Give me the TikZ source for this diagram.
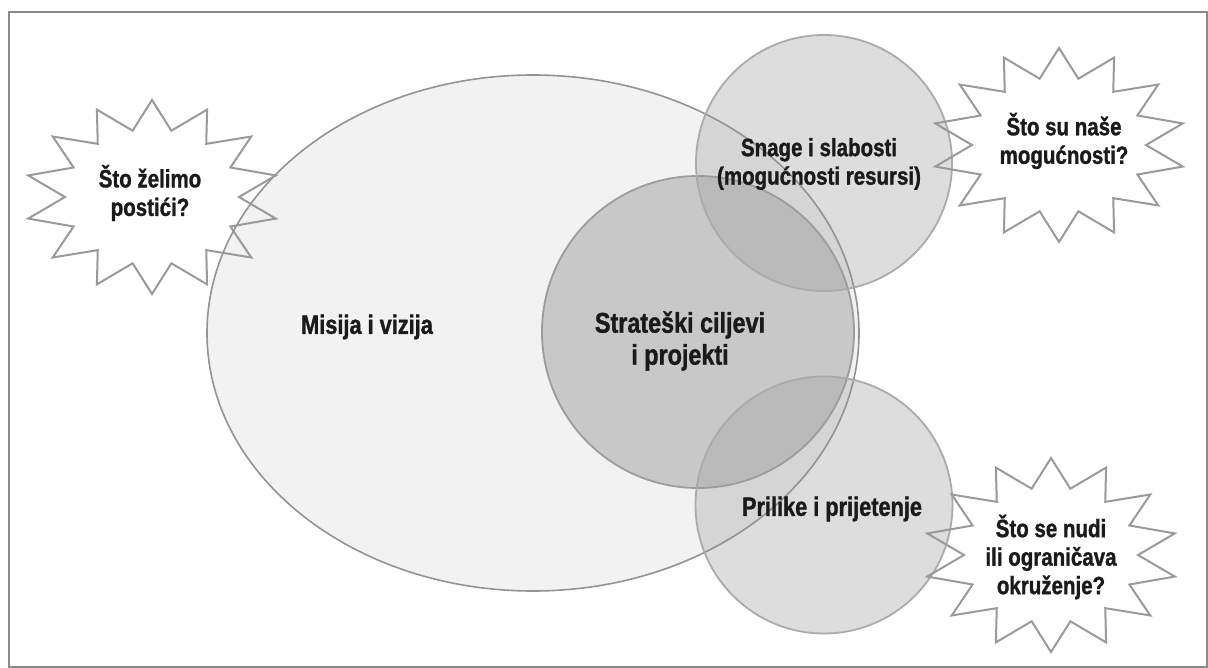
\documentclass[tikz,border=0pt]{standalone}
\usepackage{fontspec}
\newfontfamily\lbl[FakeStretch=0.82, FakeBold=1.2]{Liberation Sans}
\definecolor{ellfill}{HTML}{F2F2F2}
\definecolor{elldraw}{HTML}{939393}
\definecolor{cfillc}{HTML}{A0A0A0}
\definecolor{cdraw}{HTML}{9C9C9C}
\definecolor{sfillc}{HTML}{A4A4A4}
\definecolor{sdraw}{HTML}{ABABAB}
\definecolor{burstc}{HTML}{9A9A9A}
\definecolor{framec}{HTML}{8A8A8A}
\definecolor{txt}{HTML}{1A1A1A}
\tikzset{
  framebox/.style={draw=framec, line width=1.2pt},
  ellshape/.style={draw=elldraw, line width=1.6pt},
  coreshape/.style={draw=cdraw, line width=1.8pt},
  sideshape/.style={draw=sdraw, line width=1.8pt},
  burstline/.style={draw=burstc, line width=2pt, line join=miter},
  lab/.style={font=\lbl\bfseries\fontsize{25}{28.5}\selectfont, text=txt, align=center, inner sep=0pt},
  midlab/.style={font=\lbl\bfseries\fontsize{26.5}{30}\selectfont, text=txt, align=center, inner sep=0pt},
  biglab/.style={font=\lbl\bfseries\fontsize{28.5}{32}\selectfont, text=txt, align=center, inner sep=0pt}
}
\newcommand{\burstshape}[2]{%
  \draw[burstline] plot[variable=\k, samples at={0,...,27}]
    ({#1+(127-40*mod(\k,2))*cos(90+\k*360/28)},{#2-(97-29*mod(\k,2))*sin(90+\k*360/28)}) -- cycle;}
\begin{document}
\begin{tikzpicture}[x=1pt,y=-1pt]
\useasboundingbox (0,0) rectangle (1208,668);
\fill[white] (0,0) rectangle (1208,668);
\draw[framebox] (9,12) rectangle (1207,667);
% fills
\fill[ellfill] (533,333) ellipse[x radius=326, y radius=258];
\fill[cfillc, fill opacity=0.51] (698,332) circle[radius=156];
\fill[sfillc, fill opacity=0.364] (824,163) circle[radius=128];
\fill[sfillc, fill opacity=0.364] (824,505) circle[radius=128.5];
% outlines
\draw[ellshape] (533,333) ellipse[x radius=326, y radius=258];
\draw[coreshape] (698,332) circle[radius=156];
\draw[sideshape] (824,163) circle[radius=128];
\draw[sideshape] (824,505) circle[radius=128.5];
% starbursts
\burstshape{152}{197}
\burstshape{1059}{145}
\burstshape{1051}{555}
% labels
\node[lab] (goal) at (150,193) {Što želimo\\postići?};
\node[lab] (cap) at (1064,141) {Što su naše\\mogućnosti?};
\node[lab] (env) at (1051,557) {Što se nudi\\ili ograničava\\okruženje?};
\node[lab] (sw) at (819,164) {Snage i slabosti\\(mogućnosti resursi)};
\node[biglab] (core) at (680,341) {Strateški ciljevi\\i projekti};
\node[midlab] (mv) at (367,327) {Misija i vizija};
\node[midlab] (ot) at (832,509) {Prilike i prijetenje};
\end{tikzpicture}
\end{document}
